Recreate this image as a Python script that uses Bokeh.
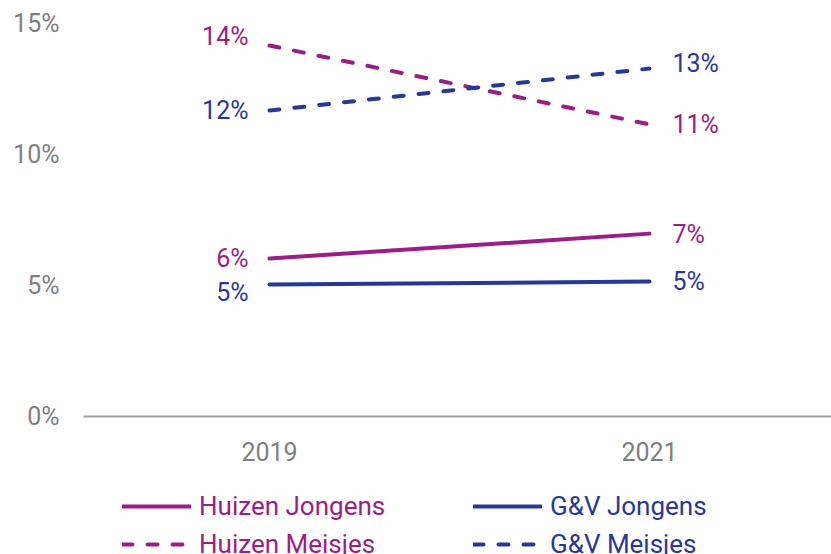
from bokeh.plotting import figure
from bokeh.layouts import column
from bokeh.models import (ColumnDataSource, FixedTicker, PrintfTickFormatter,
                          Range1d, Legend, LegendItem)
from bokeh.core.properties import value
from bokeh.embed import file_html
from bokeh.resources import INLINE

# ---- data ----
years = [2019, 2021]
series_names = ["Huizen Jongens", "G&V Jongens", "Huizen Meisjes", "G&V Meisjes"]
huizen_jongens = [6.03, 6.98]
gv_jongens = [5.04, 5.15]
huizen_meisjes = [14.16, 11.15]
gv_meisjes = [11.68, 13.28]
y_ticks = [0, 5, 10, 15]

# ---- styles ----
MAGENTA = "#9B1D86"
BLUE = "#293896"
GRAY = "#7f7f7f"
FONT = "Roboto"
FS = "25px"
LEG_FS = "26px"
DASH = "10 15"

styles = {
    "Huizen Jongens": dict(color=MAGENTA, dash="solid", yoff=(0, 1)),
    "G&V Jongens": dict(color=BLUE, dash="solid", yoff=(8, 0)),
    "Huizen Meisjes": dict(color=MAGENTA, dash=DASH, yoff=(-9, 0)),
    "G&V Meisjes": dict(color=BLUE, dash=DASH, yoff=(0, -5)),
}
series_values = {
    "Huizen Jongens": huizen_jongens,
    "G&V Jongens": gv_jongens,
    "Huizen Meisjes": huizen_meisjes,
    "G&V Meisjes": gv_meisjes,
}

p = figure(width=831, height=480, output_backend="svg", toolbar_location=None,
           x_range=Range1d(2018.021, 2021.958), y_range=Range1d(0, 15),
           min_border_left=83, min_border_right=0, min_border_top=23,
           min_border_bottom=64)
p.outline_line_color = None
p.xgrid.visible = False
p.ygrid.visible = False
p.background_fill_color = "white"
p.border_fill_color = "white"

# axes
p.yaxis.ticker = FixedTicker(ticks=y_ticks)
p.yaxis.formatter = PrintfTickFormatter(format="%d%%")
p.yaxis.axis_line_color = None
p.yaxis.major_tick_line_color = None
p.yaxis.minor_tick_line_color = None
p.yaxis.major_tick_out = 0
p.yaxis.major_tick_in = 0
p.yaxis.major_label_standoff = 24
p.yaxis.major_label_text_color = GRAY
p.yaxis.major_label_text_font = FONT
p.yaxis.major_label_text_font_size = FS

p.xaxis.ticker = FixedTicker(ticks=years)
p.xaxis.formatter = PrintfTickFormatter(format="%d")
p.xaxis.axis_line_color = "#a0a0a0"
p.xaxis.axis_line_width = 2
p.xaxis.major_tick_line_color = None
p.xaxis.minor_tick_line_color = None
p.xaxis.major_tick_out = 0
p.xaxis.major_tick_in = 0
p.xaxis.major_label_standoff = 25
p.xaxis.major_label_text_color = GRAY
p.xaxis.major_label_text_font = FONT
p.xaxis.major_label_text_font_size = FS

# legend strip (below the chart); its ranges keep the series lines out of view
lp = figure(width=831, height=74, output_backend="svg", toolbar_location=None,
            x_range=Range1d(0, 1), y_range=Range1d(0, 1),
            x_axis_location=None, y_axis_location=None,
            min_border_left=0, min_border_right=0, min_border_top=0, min_border_bottom=0)
lp.outline_line_color = None
lp.xgrid.visible = False
lp.ygrid.visible = False

legend_renderers = {}
for name in series_names:
    st = styles[name]
    vals = series_values[name]
    src = ColumnDataSource(dict(x=years, y=vals))
    p.line("x", "y", source=src, line_color=st["color"], line_width=4,
           line_dash=st["dash"], line_cap="round")
    left = ColumnDataSource(dict(x=years[:1], y=vals[:1],
                                 label=[f"{round(vals[0])}%"], yoff=[st["yoff"][0]]))
    right = ColumnDataSource(dict(x=years[1:], y=vals[1:],
                                  label=[f"{round(vals[1])}%"], yoff=[st["yoff"][1]]))
    p.text("x", "y", text="label", source=left, x_offset=-21, y_offset="yoff",
           text_align="right", text_baseline="middle", text_color=st["color"],
           text_font=value(FONT), text_font_size=FS)
    p.text("x", "y", text="label", source=right, x_offset=23, y_offset="yoff",
           text_align="left", text_baseline="middle", text_color=st["color"],
           text_font=value(FONT), text_font_size=FS)
    legend_renderers[name] = lp.line("x", "y", source=ColumnDataSource(dict(x=years, y=vals)),
                                     line_color=st["color"], line_width=4,
                                     line_dash=st["dash"], line_cap="round")


def make_legend(names, color, x):
    lg = Legend(items=[LegendItem(label=n, renderers=[legend_renderers[n]]) for n in names],
                location=(x, -5), orientation="vertical")
    lg.background_fill_alpha = 0
    lg.border_line_color = None
    lg.padding = 0
    lg.margin = 0
    lg.spacing = 8
    lg.glyph_width = 69
    lg.glyph_height = 28
    lg.label_height = 28
    lg.label_standoff = 8
    lg.label_text_color = color
    lg.label_text_font = FONT
    lg.label_text_font_size = LEG_FS
    lg.label_text_baseline = "middle"
    return lg


lp.add_layout(make_legend(["Huizen Jongens", "Huizen Meisjes"], MAGENTA, 39), "center")
lp.add_layout(make_legend(["G&V Jongens", "G&V Meisjes"], BLUE, 390), "center")

layout = column(p, lp, spacing=0)
open("out.html", "w").write(file_html(layout, INLINE))
